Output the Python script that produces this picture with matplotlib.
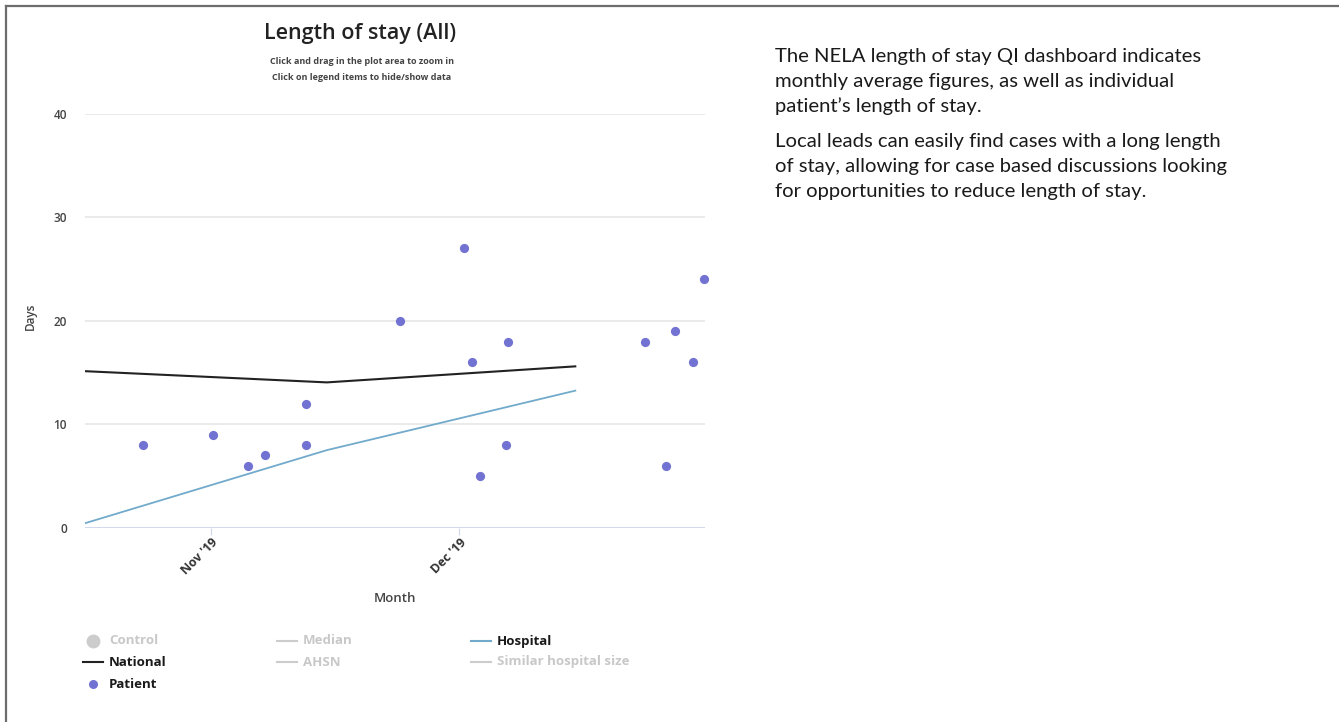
import pandas as pd
import matplotlib.pyplot as plt
from matplotlib.lines import Line2D

# monthly averages (plotted mid-month)
month_dates = pd.to_datetime(['2019-10-15', '2019-11-15', '2019-12-15'])
national = [15.2, 14.05, 15.6]
hospital = [0.0, 7.5, 13.25]

# individual patients
patient_dates = pd.to_datetime([
    '2019-10-23 18:00', '2019-11-01 07:00', '2019-11-05 10:00', '2019-11-07 13:00',
    '2019-11-12 12:00', '2019-11-12 12:00', '2019-11-23 20:00', '2019-12-01 14:00',
    '2019-12-02 14:00', '2019-12-03 11:00', '2019-12-06 14:00', '2019-12-06 21:00',
    '2019-12-23 11:00', '2019-12-26 00:00', '2019-12-27 01:00', '2019-12-29 04:00',
    '2019-12-30 13:00'])
patient_days = [8, 9, 6, 7, 12, 8, 20, 27, 16, 5, 8, 18, 18, 6, 19, 16, 24]

tick_dates = pd.to_datetime(['2019-11-01', '2019-12-01'])
tick_labels = ["Nov '19", "Dec '19"]

legend_items = [  # label, kind, colour, active
    ('Control', 'dot', '#cccccc', False),
    ('Median', 'line', '#cccccc', False),
    ('Hospital', 'line', '#72aacc', True),
    ('National', 'line', '#222222', True),
    ('AHSN', 'line', '#cccccc', False),
    ('Similar hospital size', 'line', '#cccccc', False),
    ('Patient', 'dot', '#7272d2', True),
]

paragraphs = [
    ['The NELA length of stay QI dashboard indicates',
     'monthly average figures, as well as individual',
     'patient\u2019s length of stay.'],
    ['Local leads can easily find cases with a long length',
     'of stay, allowing for case based discussions looking',
     'for opportunities to reduce length of stay.'],
]

W, H = 1339, 722
plt.rcParams['font.family'] = ['Open Sans', 'DejaVu Sans']
fig = plt.figure(figsize=(W / 100, H / 100), dpi=100)


def fx(px):
    return px / W


def fy(py):
    return 1 - py / H


ax = fig.add_axes([fx(85), fy(527.7), fx(705) - fx(85), fy(114) - fy(527.7)])
for s in ax.spines.values():
    s.set_visible(False)

ax.plot(month_dates, national, color='#222222', lw=1.5, zorder=3)
ax.plot(month_dates, hospital, color='#72aacc', lw=1.3, zorder=3)
ax.scatter(patient_dates, patient_days, s=44, color='#7272d2', zorder=4,
           clip_on=False, linewidths=0)

ax.set_xlim(pd.Timestamp('2019-10-16 19:00'), pd.Timestamp('2019-12-30 16:00'))
ax.set_ylim(0, 40)
ax.set_yticks([0, 10, 20, 30, 40])
ax.yaxis.grid(True, color='#e6e6e6', lw=1.2)
ax.set_axisbelow(True)
ax.tick_params(axis='y', length=0, pad=13, labelsize=8.5, labelcolor='#444444')
for t in ax.get_yticklabels():
    t.set_fontweight('semibold')
ax.set_xticks(tick_dates)
ax.set_xticklabels(tick_labels, rotation=45, ha='right', rotation_mode='anchor',
                   fontsize=9, color='#333333', fontweight='bold')
ax.tick_params(axis='x', length=5, color='#ccd6eb', pad=1)
ax.axhline(0, color='#ccd6eb', lw=1.2, zorder=1)

# titles and axis labels
fig.text(fx(360), fy(33), 'Length of stay (All)', ha='center', va='center',
         fontsize=15.5, color='#222222', fontweight='semibold')
fig.text(fx(362), fy(62), 'Click and drag in the plot area to zoom in',
         ha='center', va='center', fontsize=6.5, color='#444444', fontweight='bold')
fig.text(fx(362), fy(77), 'Click on legend items to hide/show data',
         ha='center', va='center', fontsize=6.5, color='#444444', fontweight='bold')
fig.text(fx(30), fy(316), 'Days', rotation=90, ha='center', va='center',
         fontsize=8.5, color='#444444', fontweight='semibold')
fig.text(fx(395), fy(598), 'Month', ha='center', va='center',
         fontsize=9.5, color='#444444', fontweight='semibold')

# legend (Highcharts-style, three columns)
col_x = [83, 277, 471]
row_y = [641, 662, 684]
for i, (label, kind, colour, active) in enumerate(legend_items):
    x0 = col_x[i % 3]
    y0 = row_y[i // 3]
    if kind == 'dot':
        ms = 10 if label == 'Control' else 6.5
        fig.add_artist(Line2D([fx(x0 + 10)], [fy(y0)], marker='o', ms=ms,
                              color=colour, mec='none', lw=0))
    else:
        fig.add_artist(Line2D([fx(x0), fx(x0 + 20)], [fy(y0), fy(y0)],
                              color=colour, lw=1.5))
    fig.text(fx(x0 + 26), fy(y0), label, ha='left', va='center', fontsize=9.5,
             color='#1a1a1a' if active else '#c8c8c8', fontweight='bold')

# description text on the right
base = [62, 147]
for p, lines in enumerate(paragraphs):
    for j, line in enumerate(lines):
        fig.text(fx(775), fy(base[p] + 25 * j), line, ha='left', va='baseline',
                 fontsize=14.6, color='#1a1a1a', family=['Lato', 'DejaVu Sans'])

# frame
fig.add_artist(Line2D([fx(6), 1], [fy(6), fy(6)], color='#6d6d6d', lw=1.6))
fig.add_artist(Line2D([fx(6), fx(6)], [fy(6), 0], color='#6d6d6d', lw=1.6))

fig.savefig('out.png', dpi=100)
